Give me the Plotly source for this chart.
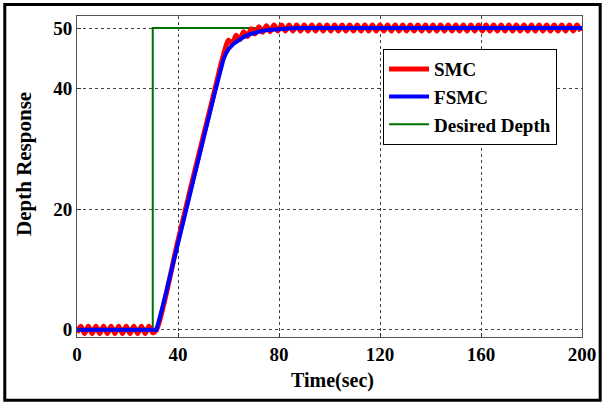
import plotly.graph_objects as go

# ---------------- data ----------------
desired_t = [0, 30, 30, 200]
desired_y = [0, 0, 50, 50]

fsmc_t = [0, 31.5, 34, 40, 45, 50, 55, 57, 58, 59, 60, 62, 64, 66, 68, 70, 73, 76, 80, 85, 90, 100, 120, 150, 200]
fsmc_y = [0, 0, 4, 14.5, 23, 31.5, 40, 43.3, 44.8, 45.8, 46.5, 47.4, 48.0, 48.5, 48.9, 49.2, 49.5, 49.7, 49.85, 49.95, 50, 50, 50, 50, 50]

smc_pre_y = [-0.5, 0.6, -0.6, 0.6, -0.6, 0.6, -0.6, 0.6, -0.6, 0.6, -0.6,
             0.6, -0.6, 0.6, -0.6, 0.6, -0.6, 0.6, -0.6, 0.6, -0.5]
smc_rise_t = [31.5, 40, 45, 50, 55, 57]
smc_rise_y = [0.0, 14.8, 23.5, 32.0, 40.5, 44.0]
smc_post_y = [46.3, 48.0, 47.4, 48.8, 48.1, 49.4, 48.6, 49.9, 49.0, 50.2,
              49.3, 50.4, 49.4, 50.5, 49.5,
              50.5, 49.5, 50.5, 49.5, 50.5, 49.5, 50.5, 49.5, 50.5, 49.5,
              50.5, 49.5, 50.5, 49.5, 50.5, 49.5, 50.5, 49.5, 50.5, 49.5,
              50.5, 49.5, 50.5, 49.5, 50.5, 49.5, 50.5, 49.5, 50.5, 49.5,
              50.5, 49.5, 50.5, 49.5, 50.5, 49.5, 50.5, 49.5, 50.5, 49.5,
              50.5, 49.5, 50.5, 49.5, 50.5, 49.5, 50.5, 49.5, 50.5, 49.5,
              50.5, 49.5, 50.5, 49.5, 50.5, 49.5, 50.5, 49.5, 50.5, 49.5,
              50.5, 49.5, 50.5, 49.5, 50.5, 49.5, 50.5, 49.5, 50.5, 49.5,
              50.5, 49.5, 50.5, 49.5, 50.5, 49.5, 50.5, 49.5, 50.5, 49.5]

x_ticks = [0, 40, 80, 120, 160, 200]
y_ticks = [0, 20, 40, 50]
x_title = "Time(sec)"
y_title = "Depth Response"

# sampling grid (1.5 s spacing) for the SMC oscillating segments
smc_pre_t = [i * 1.5 for i in range(len(smc_pre_y))]
smc_post_t = [58.5 + i * 1.5 for i in range(len(smc_post_y))]
smc_t = smc_pre_t + smc_rise_t + smc_post_t
smc_y = smc_pre_y + smc_rise_y + smc_post_y

FONT = "Liberation Serif"

fig = go.Figure()
fig.add_trace(go.Scatter(x=desired_t, y=desired_y, mode="lines", name="<b>Desired Depth</b>",
                         line=dict(color="#007000", width=2), legendrank=3))
fig.add_trace(go.Scatter(x=smc_t, y=smc_y, mode="lines", name="<b>SMC</b>",
                         line=dict(color="#ff0000", width=5, shape="spline", smoothing=0.8), legendrank=1))
fig.add_trace(go.Scatter(x=fsmc_t, y=fsmc_y, mode="lines", name="<b>FSMC</b>",
                         line=dict(color="#0000ff", width=4), legendrank=2))

axis_common = dict(
    showgrid=True, gridcolor="#444444", griddash="dot", gridwidth=1,
    showline=True, linecolor="#555555", linewidth=1, mirror=True,
    ticks="inside", ticklen=4, tickcolor="#333333",
    tickfont=dict(family=FONT, size=19, color="black", weight="bold"),
    zeroline=False, automargin=False,
)

fig.update_layout(
    width=605, height=407,
    margin=dict(l=77, r=23, t=16, b=70),
    paper_bgcolor="white", plot_bgcolor="white",
    showlegend=True,
    legend=dict(x=0.606, y=0.897, xanchor="left", yanchor="top",
                bgcolor="white", bordercolor="black", borderwidth=1,
                font=dict(family=FONT, size=19, color="black"),
                tracegroupgap=0, itemwidth=40),
    xaxis=dict(range=[0, 200], tickvals=x_ticks, **axis_common),
    yaxis=dict(range=[-1.2, 52], tickvals=y_ticks, **axis_common),
    annotations=[
        dict(text="<b>" + x_title + "</b>", xref="paper", yref="paper", x=0.505, y=-0.134,
             xanchor="center", yanchor="middle", showarrow=False,
             font=dict(family=FONT, size=20, color="black")),
        dict(text="<b>" + y_title + "</b>", xref="paper", yref="paper", x=-0.105, y=0.539,
             xanchor="center", yanchor="middle", showarrow=False, textangle=-90,
             font=dict(family=FONT, size=21, color="black")),
    ],
    shapes=[dict(type="rect", xref="paper", yref="paper",
                 x0=-0.143, x1=1.036, y0=-0.197, y1=1.036,
                 line=dict(color="black", width=3), fillcolor="rgba(0,0,0,0)", layer="above")],
)

fig.write_html("out.html", config={"displayModeBar": False},
               post_script="document.body.style.margin='0';document.body.style.overflow='hidden';")
